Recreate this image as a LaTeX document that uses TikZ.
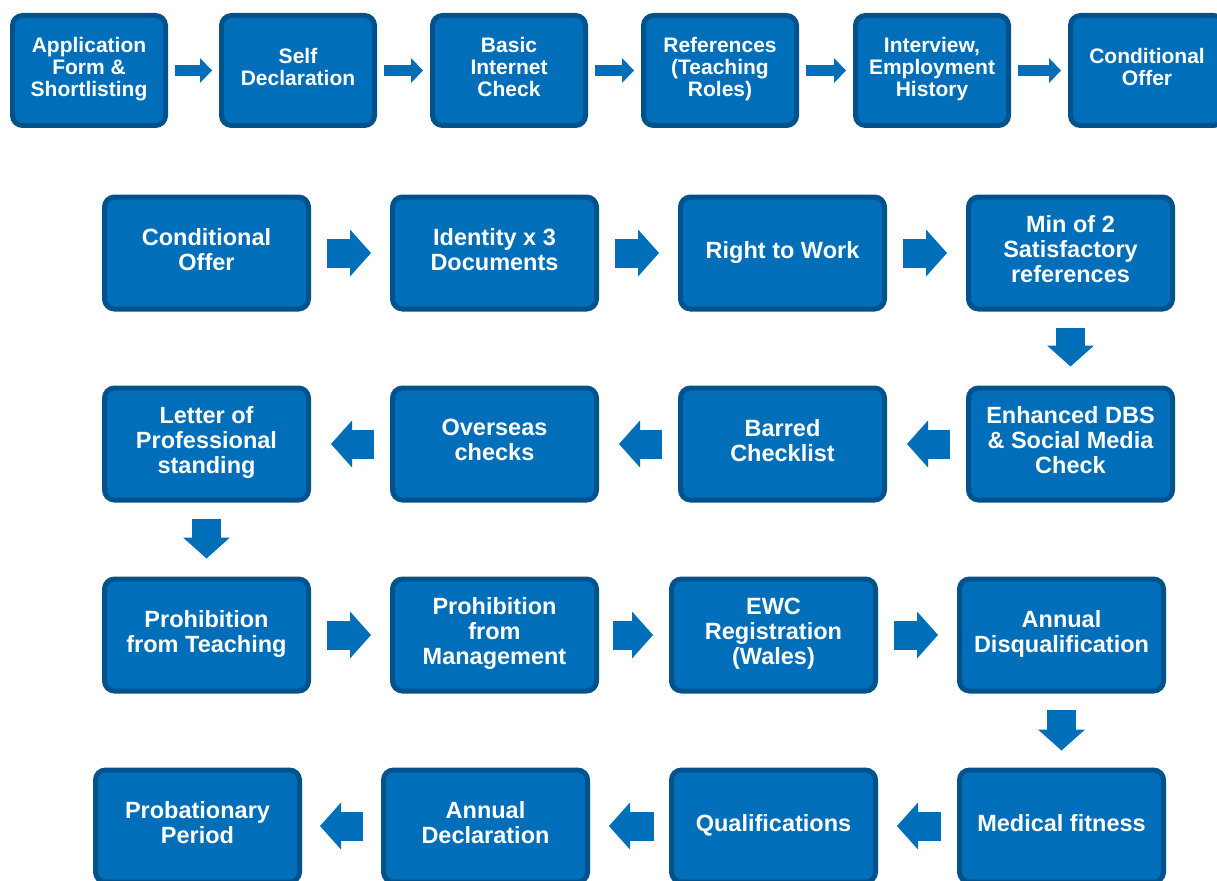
\documentclass[tikz,border=0pt]{standalone}
\usepackage{fontspec}
\setmainfont{Liberation Sans}
\usetikzlibrary{arrows.meta}
\usetikzlibrary{positioning}
\definecolor{stepblue}{RGB}{0,110,184}
\definecolor{stepedge}{RGB}{0,83,138}

\begin{document}
\begin{tikzpicture}[x=1pt,y=-1pt,
  box/.style={draw=stepedge, fill=stepblue, line width=5pt, rounded corners=10pt,
    minimum width=204pt, minimum height=112pt, inner sep=0pt, align=center, text=white,
    font=\bfseries\fontsize{23.5}{25}\selectfont,
    execute at begin node=\strut, execute at end node=\strut},
  smallbox/.style={box, minimum width=153pt, minimum height=110pt,
    font=\bfseries\fontsize{21}{22}\selectfont},
  bigarr/.style={draw=stepblue, line width=29pt,
    -{Triangle[width=47pt,length=21pt,line width=0pt]}},
  smallarr/.style={draw=stepblue, line width=11.5pt,
    -{Triangle[width=25pt,length=12pt,line width=0pt]}}]
 \useasboundingbox (0,0) rectangle (1217,880);

 % first row
 \node[smallbox] (app) at (89,70.5) {Application\\Form \&\\Shortlisting};
 \node[smallbox] (selfdec) at (298,70.5) {Self\\Declaration};
 \node[smallbox] (basic) at (509,70.5) {Basic\\Internet\\Check};
 \node[smallbox] (refs) at (720,70.5) {References\\(Teaching\\Roles)};
 \node[smallbox] (interview) at (932,70.5) {Interview,\\Employment\\History};
 \node[smallbox] (offera) at (1147,70.5) {Conditional\\Offer};

 \draw[smallarr, shorten <=7pt, shorten >=7pt] (app) -- (selfdec);
 \draw[smallarr, shorten <=7pt, shorten >=7pt] (selfdec) -- (basic);
 \draw[smallarr, shorten <=7pt, shorten >=7pt] (basic) -- (refs);
 \draw[smallarr, shorten <=7pt, shorten >=7pt] (refs) -- (interview);
 \draw[smallarr, shorten <=7pt, shorten >=7pt] (interview) -- (offera);

 % second row
 \node[box] (offerb) at (206.5,253) {Conditional\\Offer};
 \node[box] (ident) at (494.5,253) {Identity x 3\\Documents};
 \node[box] (rtw) at (782.5,253) {Right to Work};
 \node[box] (minrefs) at (1070.5,253) {Min of 2\\Satisfactory\\references};

 \draw[bigarr, shorten <=16pt, shorten >=19pt] (offerb) -- (ident);
 \draw[bigarr, shorten <=16pt, shorten >=19pt] (ident) -- (rtw);
 \draw[bigarr, shorten <=16pt, shorten >=19pt] (rtw) -- (minrefs);

 % third row
 \node[box] (dbs) at (1070.5,444) {Enhanced DBS\\\& Social Media\\Check};
 \node[box] (barred) at (782.5,444) {Barred\\Checklist};
 \node[box] (overseas) at (494.5,444) {Overseas\\checks};
 \node[box] (letter) at (206.5,444) {Letter of\\Professional\\standing};

 \draw[bigarr, shorten <=16pt, shorten >=19pt] (minrefs) -- (dbs);
 \draw[bigarr, shorten <=16pt, shorten >=20pt] (dbs) -- (barred);
 \draw[bigarr, shorten <=16pt, shorten >=20pt] (barred) -- (overseas);
 \draw[bigarr, shorten <=16pt, shorten >=20pt] (overseas) -- (letter);

 % fourth row
 \node[box] (prohibt) at (206.5,635) {Prohibition\\from Teaching};
 \node[box] (prohibm) at (494.5,635) {Prohibition\\from\\Management};
 \node[box] (ewc) at (773.5,635) {EWC\\Registration\\(Wales)};
 \node[box] (annualdq) at (1061.5,635) {Annual\\Disqualification};

 \draw[bigarr, shorten <=16pt, shorten >=18pt] (letter) -- (prohibt);
 \draw[bigarr, shorten <=16pt, shorten >=19pt] (prohibt) -- (prohibm);
 \draw[bigarr, shorten <=14pt, shorten >=16pt] (prohibm) -- (ewc);
 \draw[bigarr, shorten <=16pt, shorten >=19pt] (ewc) -- (annualdq);

 % fifth row
 \node[box] (medical) at (1061.5,826) {Medical fitness};
 \node[box] (quals) at (773.5,826) {Qualifications};
 \node[box] (annualdec) at (485.5,826) {Annual\\Declaration};
 \node[box] (probation) at (197.5,826) {Probationary\\Period};

 \draw[bigarr, shorten <=16pt, shorten >=17pt] (annualdq) -- (medical);
 \draw[bigarr, shorten <=16pt, shorten >=19pt] (medical) -- (quals);
 \draw[bigarr, shorten <=15pt, shorten >=19pt] (quals) -- (annualdec);
 \draw[bigarr, shorten <=18pt, shorten >=18pt] (annualdec) -- (probation);

\end{tikzpicture}
\end{document}
